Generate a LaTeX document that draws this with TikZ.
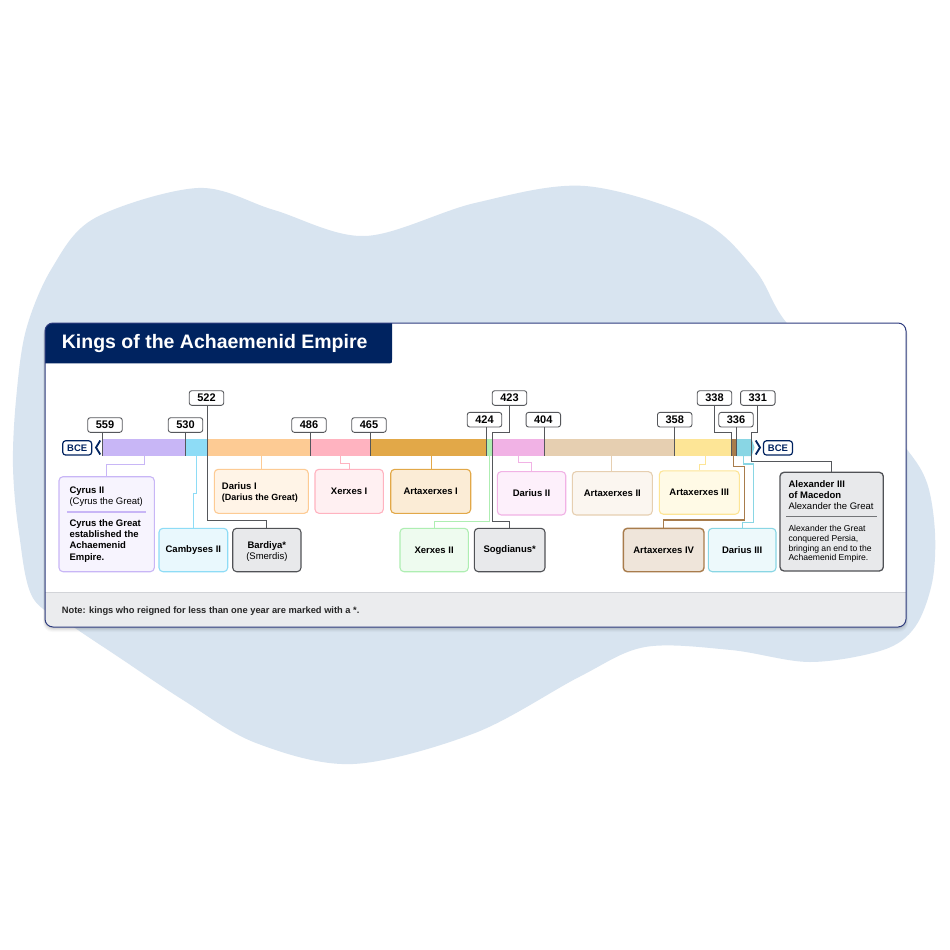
\documentclass[tikz,border=0pt]{standalone}
\usepackage{fontspec}
\setmainfont{Liberation Sans}
\definecolor{blob}{HTML}{D8E4F0}
\definecolor{navy}{HTML}{002360}
\definecolor{cardB}{HTML}{2D3B7E}
\definecolor{noteF}{HTML}{EBECEE}
\definecolor{noteL}{HTML}{D2D4D8}
\definecolor{gline}{HTML}{55575B}
\definecolor{purS}{HTML}{C8B6F6}\definecolor{purF}{HTML}{F7F4FE}
\definecolor{cyaS}{HTML}{8EDCF6}\definecolor{cyaF}{HTML}{E9F8FD}
\definecolor{oraS}{HTML}{FDCB94}\definecolor{oraF}{HTML}{FFF4E7}
\definecolor{pnkS}{HTML}{FFB3C0}\definecolor{pnkF}{HTML}{FFF0F2}
\definecolor{dorS}{HTML}{E2A848}\definecolor{dorF}{HTML}{FBECD6}
\definecolor{grnS}{HTML}{AEEEB2}\definecolor{grnF}{HTML}{EEFBEF}
\definecolor{magS}{HTML}{F1B2E5}\definecolor{magF}{HTML}{FDF0FB}
\definecolor{tanS}{HTML}{E6CFB1}\definecolor{tanF}{HTML}{FBF6F0}
\definecolor{yelS}{HTML}{FDE596}\definecolor{yelF}{HTML}{FFFAE6}
\definecolor{brnS}{HTML}{A87C4C}\definecolor{brnF}{HTML}{EFE5DA}
\definecolor{cy2S}{HTML}{89D6E4}\definecolor{cy2F}{HTML}{EDF9FB}
\definecolor{gryF}{HTML}{E8E9EB}\definecolor{gryB}{HTML}{505256}
\newcommand\kfont{\bfseries\fontsize{9.5}{11.2}\selectfont}
\newcommand\kreg{\fontsize{9.5}{11.2}\selectfont}
\newcommand\ksmall{\fontsize{8.6}{10}\selectfont}
\begin{document}
\begin{tikzpicture}[x=1pt,y=-1pt,
  yr/.style={draw=gline, line width=0.9pt, rounded corners=2.5pt, fill=white,
    minimum width=34.5pt, minimum height=14.6pt, inner sep=0pt,
    font=\bfseries\fontsize{11}{12}\selectfont},
  kbox/.style={rounded corners=4pt, line width=1.1pt, inner sep=0pt, align=center, font=\kfont},
  tall/.style={minimum height=44pt},
  low/.style={minimum height=43.4pt},
  conn/.style={line width=1pt},
  divl/.style={draw=gline, line width=1pt},
  bce/.style={draw=navy, line width=1.2pt, rounded corners=3pt, fill=white, text=navy,
    minimum width=29pt, minimum height=14.3pt, inner sep=0pt, font=\bfseries\fontsize{9.5}{11}\selectfont},
  chev/.style={draw=navy, line width=1.8pt},
  tl/.style={anchor=base west, inner sep=0pt},
  tc/.style={anchor=base, inner sep=0pt}
]
\useasboundingbox (0,0) rectangle (950,950);
\fill[white] (0,0) rectangle (950,950);
% background blob
\fill[blob] plot[smooth cycle, tension=0.55] coordinates {
 (198,188) (274,210) (365,236) (475,203) (585,186) (700,220) (755,270) (786,322)
 (850,385) (905,447) (927,483) (935,533) (932,583) (915,627) (883,650) (810,662)
 (731,650) (645,647) (579,677) (475,733) (353,764) (256,743) (183,700) (120,658)
 (75,628) (33,598) (19,533) (13,467) (16,400) (26,330) (52,268) (95,218)};
% card shadow
\foreach \i/\o in {5/0.025,4/0.03,3/0.04,2/0.05,1/0.06}
  \fill[black,opacity=\o,rounded corners=9pt] (45-\i*0.4,323+\i*0.6) rectangle (906+\i*0.4,627+\i);
\fill[white,rounded corners=8pt] (45,323) rectangle (906,627);
\begin{scope}
\clip[rounded corners=8pt] (45,323) rectangle (906,627);
\fill[navy] (40,318) -- (392,318) -- (392,359.3) .. controls (392,363.3) .. (388,363.3) -- (40,363.3) -- cycle;
\fill[noteF] (40,592.3) rectangle (911,632);
\draw[noteL,line width=1.2pt] (40,592.3) -- (911,592.3);
\end{scope}
\draw[cardB,line width=1pt,rounded corners=8pt] (45,323) rectangle (906,627);
\node[anchor=base west, inner sep=0pt, text=white, font=\bfseries\fontsize{19.5}{22}\selectfont] (title) at (61.7,348.3) {Kings of the Achaemenid Empire};
\node[anchor=base west, inner sep=0pt, text=black!85, font=\bfseries\fontsize{9.3}{11}\selectfont] (note) at (61.7,613) {Note: kings who reigned for less than one year are marked with a *.};

% timeline bar
\fill[purS] (102.7,439) rectangle (185,456);
\fill[cyaS] (185,439) rectangle (207.3,456);
\fill[oraS] (207.3,439) rectangle (310,456);
\fill[pnkS] (310,439) rectangle (370,456);
\fill[dorS] (370,439) rectangle (486.7,456);
\fill[grnS] (486.7,439) rectangle (492.7,456);
\fill[magS] (492.7,439) rectangle (544.3,456);
\fill[tanS] (544.3,439) rectangle (674,456);
\fill[yelS] (674,439) rectangle (731,456);
\fill[brnS] (731,439) rectangle (736.7,456);
\fill[cy2S] (736.7,439) -- (751.7,439) -- (754.5,447.5) -- (751.7,456) -- (736.7,456) -- cycle;

\node[bce] (bceL) at (77.2,447.9) {BCE};
\node[bce] (bceR) at (778,447.9) {BCE};
\coordinate (chL) at (96,447.5);
\coordinate (chR) at (760,447.5);
\draw[chev] (chL) ++(4.3,-7) -- (chL) -- ++(4.3,7);
\draw[chev] (chR) ++(-4.3,-7) -- (chR) -- ++(-4.3,7);

% boundary coordinates (bar bottom)
\coordinate (k559) at (102.7,456);
\coordinate (k530) at (185,456);
\coordinate (k522) at (207.3,456);
\coordinate (k486) at (310,456);
\coordinate (k465) at (370,456);
\coordinate (k424) at (486.7,456);
\coordinate (k423) at (492.7,456);
\coordinate (k404) at (544.3,456);
\coordinate (k358) at (674,456);
\coordinate (k338) at (731,456);
\coordinate (k336) at (736.7,456);
\coordinate (k331) at (751.7,456);
% segment connector starts
\coordinate (sCy) at (144,456);
\coordinate (sCa) at (196.2,456);
\coordinate (sD1) at (261.7,456);
\coordinate (sX1) at (340,456);
\coordinate (sA1) at (431,456);
\coordinate (sX2) at (489.7,456);
\coordinate (sD2) at (518.3,456);
\coordinate (sA2) at (611,456);
\coordinate (sA3) at (705,456);
\coordinate (sA4) at (733.8,456);
\coordinate (sD3) at (743.3,456);

% year boxes
\node[yr] (y559) at (105,425) {559};
\node[yr] (y530) at (185.5,425) {530};
\node[yr] (y522) at (206.5,398) {522};
\node[yr] (y486) at (309,425) {486};
\node[yr] (y465) at (369,425) {465};
\node[yr] (y424) at (484.5,419.7) {424};
\node[yr] (y423) at (509.5,398) {423};
\node[yr] (y404) at (543.3,419.7) {404};
\node[yr] (y358) at (674.7,419.7) {358};
\node[yr] (y338) at (714.5,398) {338};
\node[yr] (y336) at (736,419.7) {336};
\node[yr] (y331) at (757.8,398) {331};

% king boxes
\node[kbox, draw=purS, fill=purF, minimum width=95.3pt, minimum height=95pt] (cyrus) at (106.65,524.2) {};
\node[kbox, low, draw=cyaS, fill=cyaF, minimum width=68.7pt] (camb) at (193.35,550) {Cambyses II};
\node[kbox, low, draw=gryB, fill=gryF, minimum width=68.3pt] (bard) at (266.85,550) {};
\node[kbox, tall, draw=oraS, fill=oraF, minimum width=94pt] (dar1) at (261.3,491.3) {};
\node[kbox, tall, draw=pnkS, fill=pnkF, minimum width=68.3pt] (xer1) at (349.15,491.3) {Xerxes I};
\node[kbox, tall, draw=dorS, fill=dorF, minimum width=80pt] (art1) at (430.7,491.3) {Artaxerxes I};
\node[kbox, low, draw=grnS, fill=grnF, minimum width=68.3pt] (xer2) at (434.15,550) {Xerxes II};
\node[kbox, low, draw=gryB, fill=gryF, minimum width=70.7pt] (sogd) at (509.65,550) {Sogdianus*};
\node[kbox, low, draw=magS, fill=magF, minimum width=68.4pt] (dar2) at (531.5,493.3) {Darius II};
\node[kbox, low, draw=tanS, fill=tanF, minimum width=80pt] (art2) at (612.3,493.3) {Artaxerxes II};
\node[kbox, low, draw=yelS, fill=yelF, minimum width=80pt] (art3) at (699.3,492.5) {Artaxerxes III};
\node[kbox, low, draw=brnS, fill=brnF, minimum width=80.7pt, line width=1.4pt] (art4) at (663.65,550) {Artaxerxes IV};
\node[kbox, low, draw=cy2S, fill=cy2F, minimum width=67.7pt] (dar3) at (742.15,550) {Darius III};
\node[kbox, draw=gryB, fill=gryF, minimum width=103.3pt, minimum height=98.7pt, line width=1.3pt] (alex) at (831.65,521.65) {};

% dividers (year lines through the bar)
\draw[divl] (y559.south -| k559) -- (k559);
\draw[divl] (y530.south -| k530) -- (k530);
\draw[divl] (y486.south -| k486) -- (k486);
\draw[divl] (y465.south -| k465) -- (k465);
\draw[divl] (y424.south -| k424) -- (k424);
\draw[divl] (y404.south -| k404) -- (k404);
\draw[divl] (y358.south -| k358) -- (k358);
\draw[divl] (y336.south -| k336) -- (k336);
\draw[divl] (y522.south -| k522) -- (k522) -- ++(0,64) -| (bard.north);
\draw[divl] (y423.south) -- ++(0,26.4) -| (k423) -- ++(0,65) -| (sogd.north);
\draw[divl] (y338.south) -- ++(0,26.4) -| (k338);
\draw[divl] (y331.south) -- ++(0,26.4) -| (k331) -- ++(0,5.5) -| (alex.north);

% coloured connectors
\draw[conn, purS] (sCy) -- ++(0,8) -| (cyrus.north);
\draw[conn, cyaS] (sCa) -- ++(0,37.3) -| (camb.north);
\draw[conn, oraS] (sD1) -- (sD1 |- dar1.north);
\draw[conn, pnkS] (sX1) -- ++(0,7.3) -| (xer1.north);
\draw[conn, dorS] (sA1) -- (sA1 |- art1.north);
\draw[conn, grnS] (sX2) -- ++(0,65) -| (xer2.north);
\draw[conn, magS] (sD2) -- ++(0,6.7) -| (dar2.north);
\draw[conn, tanS] (sA2) -- (sA2 |- art2.north);
\draw[conn, yelS] (sA3) -- ++(0,8) -| (art3.north);
\draw[conn, brnS, line width=1.3pt] (sA4) -- ++(0,10.5) -- ++(10.5,0) -- ++(0,53.5) -| (art4.north);
\draw[conn, cy2S, line width=1.2pt] (sD3) -- ++(0,8) -- ++(10,0) -- ++(0,58.7) -| (dar3.north);

% Cyrus text
\node[tl, font=\kfont] (cy1) at (69.3,493.3) {Cyrus II};
\node[tl, font=\kreg] (cy2) at (69.3,504) {(Cyrus the Great)};
\draw[purS, line width=1.6pt] (67,511.7) -- (145.5,511.7);
\node[tl, font=\kfont] (cy3) at (69.3,526.7) {Cyrus the Great};
\node[tl, font=\kfont] (cy4) at (69.3,537.8) {established the};
\node[tl, font=\kfont] (cy5) at (69.3,548.9) {Achaemenid};
\node[tl, font=\kfont] (cy6) at (69.3,560) {Empire.};
% Darius I text
\node[tl, font=\kfont] (d1a) at (221.7,489) {Darius I};
\node[tl, font=\bfseries\fontsize{9}{11}\selectfont] (d1b) at (221.7,500) {(Darius the Great)};
% Bardiya text
\node[tc, font=\kfont] (ba1) at (266.85,548.3) {Bardiya*};
\node[tc, font=\kreg] (ba2) at (266.85,559) {(Smerdis)};
% Alexander text
\node[tl, font=\kfont] (al1) at (788.3,487.7) {Alexander III};
\node[tl, font=\kfont] (al2) at (788.3,498.3) {of Macedon};
\node[tl, font=\kreg] (al3) at (788.3,509) {Alexander the Great};
\draw[gryB!80, line width=1.5pt] (786,516.7) -- (877,516.7);
\node[tl, font=\ksmall] (al4) at (788.3,531.5) {Alexander the Great};
\node[tl, font=\ksmall] (al5) at (788.3,541.3) {conquered Persia,};
\node[tl, font=\ksmall] (al6) at (788.3,551.1) {bringing an end to the};
\node[tl, font=\ksmall] (al7) at (788.3,560.9) {Achaemenid Empire.};
\end{tikzpicture}
\end{document}
